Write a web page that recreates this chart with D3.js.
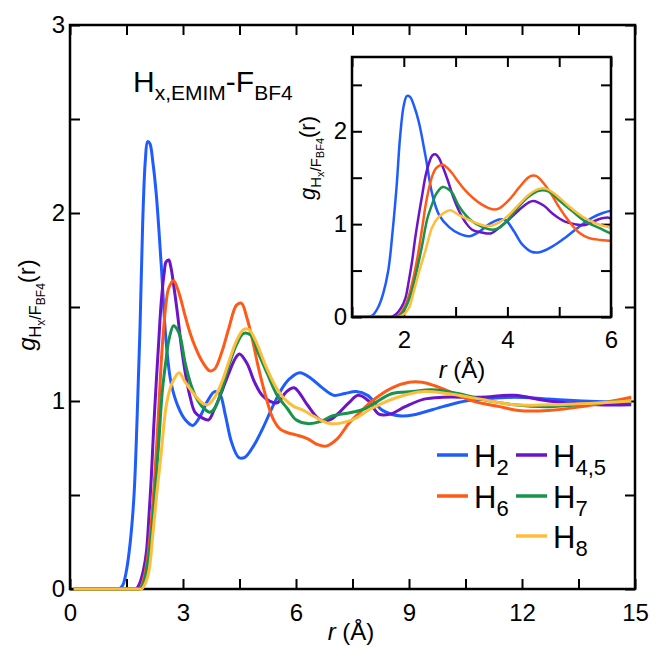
<!DOCTYPE html>
<html>
<head>
<meta charset="utf-8">
<script src="https://cdn.jsdelivr.net/npm/d3@7"></script>
<style>
  body { margin: 0; background: #fff; }
  svg { font-family: "Liberation Sans", Arial, sans-serif; }
  .axis path { display: none; }
  .axis line { stroke: #000; stroke-width: 2; }
  .axis text { fill: #000; }
</style>
</head>
<body>
<div id="graf"></div>
<script>
// series: [r, g(r)]
const h2 = [[0.1,0],[0.5,0],[0.9,0],[1.1,0],[1.2,0],[1.3,0],[1.4,0.02],[1.5,0.1],[1.6,0.25],[1.7,0.5],[1.78,0.9],[1.86,1.4],[1.93,1.95],[2.0,2.28],[2.06,2.38],[2.12,2.37],[2.2,2.27],[2.29,2.1],[2.42,1.73],[2.55,1.32],[2.68,1.1],[2.87,0.97],[3.06,0.9],[3.26,0.87],[3.46,0.92],[3.65,1.0],[3.84,1.05],[3.97,1.04],[4.13,0.92],[4.29,0.78],[4.48,0.7],[4.64,0.7],[4.87,0.76],[5.13,0.86],[5.38,0.97],[5.64,1.07],[5.84,1.12],[6.1,1.15],[6.4,1.12],[6.7,1.07],[7.0,1.03],[7.3,1.04],[7.6,1.05],[7.9,1.03],[8.3,0.95],[8.8,0.92],[9.2,0.93],[9.9,0.97],[10.5,1.0],[11.0,1.01],[11.8,1.02],[12.7,1.01],[13.6,1.0],[14.9,0.99]]
const h45 = [[0.1,0],[0.5,0],[0.9,0],[1.3,0],[1.55,0],[1.65,0],[1.75,0],[1.85,0.03],[1.95,0.1],[2.03,0.2],[2.1,0.4],[2.16,0.6],[2.22,0.85],[2.29,1.1],[2.36,1.33],[2.42,1.52],[2.5,1.68],[2.55,1.74],[2.62,1.75],[2.68,1.71],[2.75,1.62],[2.85,1.47],[2.95,1.3],[3.06,1.15],[3.19,1.02],[3.32,0.94],[3.51,0.91],[3.68,0.9],[3.84,0.96],[4.03,1.05],[4.22,1.15],[4.4,1.23],[4.5,1.25],[4.7,1.2],[4.9,1.1],[5.1,1.03],[5.3,1.0],[5.5,0.99],[5.75,1.05],[5.95,1.07],[6.1,1.04],[6.3,0.98],[6.64,0.9],[6.9,0.9],[7.1,0.93],[7.4,0.99],[7.65,1.03],[7.93,1.0],[8.2,0.93],[8.5,0.93],[8.9,0.97],[9.4,1.01],[9.9,1.02],[10.9,1.02],[11.8,1.03],[12.7,1.0],[14.0,0.98],[14.9,0.98]]
const h6 = [[0.1,0],[0.5,0],[0.9,0],[1.3,0],[1.65,0],[1.75,0],[1.85,0],[1.95,0.05],[2.05,0.15],[2.16,0.36],[2.25,0.6],[2.35,0.94],[2.42,1.2],[2.48,1.37],[2.55,1.52],[2.62,1.6],[2.75,1.64],[2.85,1.6],[2.93,1.55],[3.06,1.45],[3.19,1.36],[3.32,1.29],[3.51,1.21],[3.71,1.16],[3.84,1.17],[4.03,1.26],[4.22,1.39],[4.42,1.51],[4.55,1.52],[4.7,1.44],[4.85,1.32],[5.0,1.18],[5.19,1.03],[5.38,0.91],[5.58,0.85],[5.8,0.83],[6.0,0.82],[6.3,0.8],[6.55,0.77],[6.8,0.76],[7.1,0.8],[7.4,0.88],[7.7,0.94],[8.02,1.0],[8.55,1.07],[9.0,1.1],[9.35,1.1],[9.7,1.08],[10.2,1.04],[10.7,1.0],[11.4,0.97],[11.9,0.95],[12.7,0.95],[13.6,0.97],[14.4,1.0],[14.9,1.02]]
const h7 = [[0.1,0],[0.5,0],[0.9,0],[1.3,0],[1.65,0],[1.75,0],[1.85,0],[1.95,0.03],[2.05,0.12],[2.16,0.29],[2.29,0.6],[2.36,0.79],[2.45,1.05],[2.55,1.22],[2.62,1.32],[2.75,1.4],[2.85,1.38],[2.93,1.34],[3.06,1.2],[3.19,1.1],[3.32,1.03],[3.51,0.97],[3.71,0.94],[3.84,0.96],[4.03,1.06],[4.22,1.19],[4.42,1.3],[4.61,1.36],[4.8,1.35],[4.99,1.26],[5.25,1.14],[5.5,1.03],[5.77,0.96],[6.0,0.9],[6.3,0.88],[6.64,0.89],[6.96,0.92],[7.49,0.94],[7.84,0.96],[8.55,1.04],[9.1,1.05],[9.6,1.06],[10.3,1.04],[10.9,1.01],[11.8,0.98],[12.7,0.97],[14.0,0.99],[14.9,1.0]]
const h8 = [[0.1,0],[0.5,0],[0.9,0],[1.3,0],[1.7,0],[1.8,0],[1.9,0],[2.0,0.03],[2.1,0.1],[2.2,0.29],[2.3,0.5],[2.42,0.72],[2.55,0.97],[2.68,1.08],[2.8,1.13],[2.9,1.15],[3.06,1.1],[3.32,1.03],[3.51,0.99],[3.65,0.98],[3.84,1.02],[4.03,1.1],[4.22,1.21],[4.42,1.32],[4.61,1.38],[4.75,1.38],[4.93,1.32],[5.19,1.19],[5.45,1.08],[5.7,1.01],[5.95,0.97],[6.2,0.95],[6.46,0.92],[6.9,0.88],[7.49,0.9],[8.0,0.96],[8.7,1.02],[9.4,1.05],[10.0,1.04],[10.9,1.01],[11.8,0.98],[12.7,0.98],[14.0,0.99],[14.9,1.0]]

const nombres = [["H","2"],["H","4,5"],["H","6"],["H","7"],["H","8"]]
const colores = ["#1f5cff","#6c14c9","#ff5a17","#17934b","#ffbd3c"]
const series = [h2, h45, h6, h7, h8]

const xTicks = d3.range(0, 15.01, 1.5)
const yTicks = d3.range(0, 3.01, 0.5)
const xTicksIn = d3.range(1, 6.01, 1)
const yTicksIn = d3.range(0, 2.51, 0.5)

const svg = d3.select("#graf").append("svg")
  .attr("width", 664)
  .attr("height", 653)

// main plot
const x = d3.scaleLinear().domain([0, 15]).range([70, 635])
const y = d3.scaleLinear().domain([0, 3]).range([589, 25])

const fmt = (d) => (Math.abs(d % 3) < 1e-9 ? d : "")
const fmtY = (d) => (Math.abs(d % 1) < 1e-9 ? d : "")

svg.append("g").attr("class", "axis").attr("transform", "translate(0,589)")
  .call(d3.axisBottom(x).tickValues(xTicks).tickSize(-10).tickPadding(15).tickFormat(fmt))
  .selectAll("text").style("font-size", "24px")
svg.append("g").attr("class", "axis").attr("transform", "translate(0,25)")
  .call(d3.axisTop(x).tickValues(xTicks).tickSize(-10).tickFormat(""))
svg.append("g").attr("class", "axis").attr("transform", "translate(70,0)")
  .call(d3.axisLeft(y).tickValues(yTicks).tickSize(-10).tickPadding(5).tickFormat(fmtY))
  .selectAll("text").style("font-size", "24px")
svg.append("g").attr("class", "axis").attr("transform", "translate(635,0)")
  .call(d3.axisRight(y).tickValues(yTicks).tickSize(-10).tickFormat(""))

svg.append("rect")
  .attr("x", 70).attr("y", 25).attr("width", 565).attr("height", 564)
  .attr("fill", "none").attr("stroke", "#000").attr("stroke-width", 2.5)

const linea = d3.line()
  .x((d) => x(d[0]))
  .y((d) => y(d[1]))
  .curve(d3.curveCatmullRom.alpha(0.5))

svg.append("g").selectAll("path")
  .data(series)
  .join("path")
  .attr("d", linea)
  .attr("fill", "none")
  .attr("stroke", (d, i) => colores[i])
  .attr("stroke-width", 3)

// title
const tit = svg.append("text").attr("x", 133).attr("y", 92).style("font-size", "30px")
tit.append("tspan").text("H")
tit.append("tspan").attr("dy", 8).style("font-size", "21px").text("x,EMIM")
tit.append("tspan").attr("dy", -8).text("-F")
tit.append("tspan").attr("dy", 8).style("font-size", "21px").text("BF4")

// axis labels
const ejeX = (sel, cx, cy, size) => {
  const t = sel.append("text").attr("x", cx).attr("y", cy)
    .attr("text-anchor", "middle").style("font-size", size + "px")
  t.append("tspan").style("font-style", "italic").text("r")
  t.append("tspan").text(" (Å)")
}
ejeX(svg, 351, 640, 24)

const ejeY = (sel, cx, cy, s) => {
  const t = sel.append("text")
    .attr("transform", `translate(${cx},${cy}) rotate(-90)`)
    .attr("text-anchor", "middle").style("font-size", s + "px")
  t.append("tspan").style("font-style", "italic").text("g")
  t.append("tspan").attr("dy", s * 0.25).style("font-size", s * 0.68 + "px").text("H")
  t.append("tspan").attr("dy", s * 0.15).style("font-size", s * 0.5 + "px").text("x")
  t.append("tspan").attr("dy", -s * 0.15).style("font-size", s * 0.68 + "px").text("/F")
  t.append("tspan").attr("dy", s * 0.15).style("font-size", s * 0.5 + "px").text("BF4")
  t.append("tspan").attr("dy", -s * 0.4).text("(r)")
}
ejeY(svg, 35, 305, 24)

// legend
const leg = svg.append("g")
const legPos = [[437, 455], [516, 455], [437, 496], [516, 496], [516, 536]]
nombres.forEach((n, i) => {
  const [lx, ly] = legPos[i]
  leg.append("line")
    .attr("x1", lx).attr("x2", lx + 31).attr("y1", ly).attr("y2", ly)
    .attr("stroke", colores[i]).attr("stroke-width", 3.5)
  const t = leg.append("text").attr("x", lx + 37).attr("y", ly + 12).style("font-size", "31px")
  t.append("tspan").text(n[0])
  t.append("tspan").attr("dy", 8).style("font-size", "22px").text(n[1])
})

// inset
const xi = d3.scaleLinear().domain([1, 6]).range([352, 611])
const yi = d3.scaleLinear().domain([0, 2.8]).range([317, 57])

svg.append("rect")
  .attr("x", 352).attr("y", 57).attr("width", 259).attr("height", 260)
  .attr("fill", "#fff")

svg.append("clipPath").attr("id", "recorte")
  .append("rect").attr("x", 352).attr("y", 57).attr("width", 259).attr("height", 260)

svg.append("g").attr("class", "axis").attr("transform", "translate(0,317)")
  .call(d3.axisBottom(xi).tickValues(xTicksIn).tickSize(-10).tickPadding(14)
    .tickFormat((d) => (d % 2 === 0 ? d : "")))
  .selectAll("text").style("font-size", "24px")
svg.append("g").attr("class", "axis").attr("transform", "translate(0,57)")
  .call(d3.axisTop(xi).tickValues(xTicksIn).tickSize(-10).tickFormat(""))
svg.append("g").attr("class", "axis").attr("transform", "translate(352,0)")
  .call(d3.axisLeft(yi).tickValues(yTicksIn).tickSize(-10).tickPadding(5).tickFormat(fmtY))
  .selectAll("text").style("font-size", "24px")
svg.append("g").attr("class", "axis").attr("transform", "translate(611,0)")
  .call(d3.axisRight(yi).tickValues(yTicksIn).tickSize(-10).tickFormat(""))

const lineaIn = d3.line()
  .x((d) => xi(d[0]))
  .y((d) => yi(d[1]))
  .curve(d3.curveCatmullRom.alpha(0.5))

svg.append("g").attr("clip-path", "url(#recorte)").selectAll("path")
  .data(series)
  .join("path")
  .attr("d", lineaIn)
  .attr("fill", "none")
  .attr("stroke", (d, i) => colores[i])
  .attr("stroke-width", 2.5)

svg.append("rect")
  .attr("x", 352).attr("y", 57).attr("width", 259).attr("height", 260)
  .attr("fill", "none").attr("stroke", "#000").attr("stroke-width", 2.5)

ejeX(svg, 462, 378, 24)
ejeY(svg, 315, 158, 22)
</script>
</body>
</html>
